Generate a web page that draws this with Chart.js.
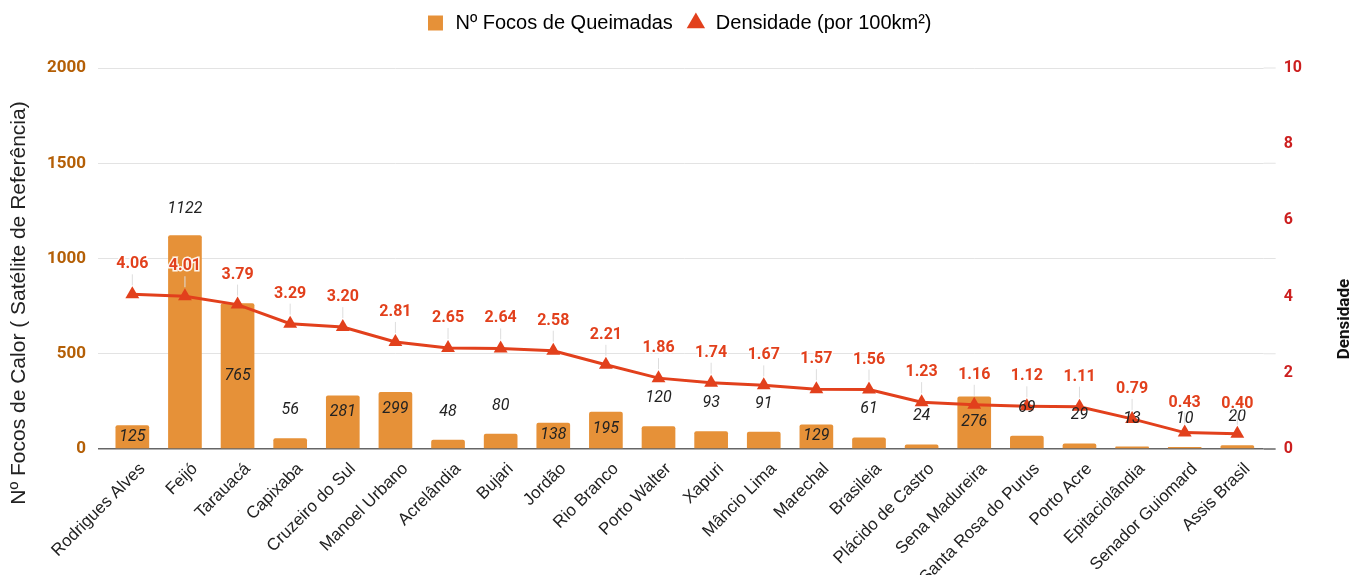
<!DOCTYPE html>
<html>
<head>
    <meta charset="UTF-8">
    <title>Focos de Queimadas - Acre</title>
    <script src="https://cdn.jsdelivr.net/npm/chart.js"></script>
    <style>
        body {
            margin: 0;
            padding: 0;
            background: #fff;
        }
        .chart-container {
            position: relative;
            width: 1366px;
            height: 575px;
        }
    </style>
</head>
<body>
    <div class="chart-container">
        <canvas id="focosChart"></canvas>
    </div>

    <script>
        // municípios
        const municipios = ['Rodrigues Alves', 'Feijó', 'Tarauacá', 'Capixaba', 'Cruzeiro do Sul', 'Manoel Urbano',
            'Acrelândia', 'Bujari', 'Jordão', 'Rio Branco', 'Porto Walter', 'Xapuri', 'Mâncio Lima', 'Marechal',
            'Brasileia', 'Plácido de Castro', 'Sena Madureira', 'Santa Rosa do Purus', 'Porto Acre',
            'Epitaciolândia', 'Senador Guiomard', 'Assis Brasil'];
        // nº de focos (barras)
        const focos = [125, 1122, 765, 56, 281, 299, 48, 80, 138, 195, 120, 93, 91, 129, 61, 24, 276, 69, 29, 13, 10, 20];
        // densidade por 100km² (linha)
        const densidade = [4.06, 4.01, 3.79, 3.29, 3.20, 2.81, 2.65, 2.64, 2.58, 2.21, 1.86, 1.74, 1.67, 1.57, 1.56,
            1.23, 1.16, 1.12, 1.11, 0.79, 0.43, 0.40];

        const corBarra = '#e69138';
        const corLinha = '#e2401c';

        // espaço extra abaixo da legenda
        const espacoLegenda = {
            id: 'espacoLegenda',
            beforeInit(chart) {
                const fitOrig = chart.legend.fit;
                chart.legend.fit = function() {
                    fitOrig.call(this);
                    this.height += 25;
                };
            }
        };

        // rótulos de dados desenhados à mão (sem plugin externo)
        const rotulos = {
            id: 'rotulos',
            beforeDatasetsDraw(chart) {
                // prolonga as linhas de grade para a direita
                const ctx = chart.ctx;
                const area = chart.chartArea;
                ctx.save();
                chart.scales.y.ticks.forEach(t => {
                    const y = chart.scales.y.getPixelForValue(t.value);
                    ctx.strokeStyle = t.value === 0 ? '#666' : '#e3e3e3';
                    ctx.lineWidth = t.value === 0 ? 1.5 : 1;
                    ctx.beginPath();
                    ctx.moveTo(area.right, y);
                    ctx.lineTo(area.right + 12, y);
                    ctx.stroke();
                });
                ctx.restore();
            },
            afterDatasetsDraw(chart) {
                const ctx = chart.ctx;
                const barras = chart.getDatasetMeta(0).data;
                const pontos = chart.getDatasetMeta(1).data;
                ctx.save();
                ctx.textAlign = 'center';
                ctx.textBaseline = 'middle';

                // linhas guia cinzas
                ctx.strokeStyle = '#dddddd';
                ctx.lineWidth = 1;
                pontos.forEach(p => {
                    ctx.beginPath();
                    ctx.moveTo(p.x, p.y - 20);
                    ctx.lineTo(p.x, p.y - 9);
                    ctx.stroke();
                });

                // valores das barras
                ctx.font = 'italic 16px Roboto';
                ctx.fillStyle = '#222';
                barras.forEach((b, i) => {
                    const v = focos[i];
                    let y;
                    if (v > 1000) {
                        y = b.y - 26;
                    } else if (v >= 125) {
                        const meio = (b.y + b.base) / 2;
                        y = Math.min(meio, b.y + 17);
                        // se bater no marcador da linha, desce para o meio da barra
                        if (Math.abs(y - pontos[i].y) < 20) y = meio;
                    } else {
                        y = b.y - 28;
                    }
                    ctx.fillText(String(v), b.x, y);
                });

                // valores da densidade
                ctx.font = 'bold 16px Roboto';
                ctx.lineWidth = 3;
                ctx.strokeStyle = 'rgba(255,255,255,0.9)';
                ctx.fillStyle = corLinha;
                pontos.forEach((p, i) => {
                    const txt = densidade[i].toFixed(2);
                    ctx.strokeText(txt, p.x, p.y - 30);
                    ctx.fillText(txt, p.x, p.y - 30);
                });

                // títulos dos eixos
                const area = chart.chartArea;
                ctx.fillStyle = '#222';
                ctx.font = '21px "Liberation Sans", Arial';
                ctx.translate(19, area.top + 235);
                ctx.rotate(-Math.PI / 2);
                ctx.fillText('Nº Focos de Calor ( Satélite de Referência)', 0, 0);
                ctx.setTransform(1, 0, 0, 1, 0, 0);
                ctx.font = 'bold 17px Roboto';
                ctx.fillStyle = '#111';
                ctx.translate(1345, area.top + 251);
                ctx.rotate(-Math.PI / 2);
                ctx.fillText('Densidade', 0, 0);
                ctx.restore();
            }
        };

        const ctx = document.getElementById('focosChart').getContext('2d');
        new Chart(ctx, {
            data: {
                labels: municipios,
                datasets: [
                    {
                        type: 'bar',
                        label: 'Nº Focos de Queimadas',
                        data: focos,
                        backgroundColor: corBarra,
                        borderRadius: 2,
                        barPercentage: 0.8,
                        categoryPercentage: 0.8,
                        yAxisID: 'y',
                        order: 1
                    },
                    {
                        type: 'line',
                        label: 'Densidade (por 100km²)',
                        data: densidade,
                        borderColor: corLinha,
                        backgroundColor: corLinha,
                        borderWidth: 3,
                        pointStyle: 'triangle',
                        pointRadius: 8,
                        pointBorderWidth: 0,
                        tension: 0,
                        yAxisID: 'y1',
                        order: 0
                    }
                ]
            },
            options: {
                responsive: true,
                maintainAspectRatio: false,
                animation: false,
                layout: {
                    padding: { left: 35, right: 44, top: 0, bottom: 0 }
                },
                plugins: {
                    legend: {
                        position: 'top',
                        labels: {
                            usePointStyle: true,
                            boxHeight: 15,
                            color: '#222',
                            font: { size: 20, family: '"Liberation Sans", Arial' },
                            padding: 13,
                            generateLabels: function(chart) {
                                return chart.data.datasets.map((ds, i) => ({
                                    text: ds.label,
                                    fillStyle: i === 0 ? corBarra : corLinha,
                                    strokeStyle: i === 0 ? corBarra : corLinha,
                                    lineWidth: 0,
                                    pointStyle: i === 0 ? 'rect' : 'triangle',
                                    hidden: false,
                                    datasetIndex: i
                                }));
                            }
                        }
                    },
                    tooltip: { enabled: false }
                },
                scales: {
                    x: {
                        grid: { display: false },
                        border: { display: false },
                        afterFit: s => { s.height = 126; },
                        ticks: {
                            color: '#222',
                            font: { size: 17, family: '"Liberation Sans", Arial' },
                            minRotation: 45,
                            maxRotation: 45,
                            autoSkip: false,
                            labelOffset: 10,
                            padding: 2
                        }
                    },
                    y: {
                        position: 'left',
                        min: 0,
                        max: 2000,
                        ticks: {
                            stepSize: 500,
                            color: '#b45f06',
                            font: { size: 17, weight: 'bold', family: 'Roboto' },
                            padding: 12,
                            callback: v => String(v)
                        },
                        grid: {
                            tickLength: 8,
                            color: c => c.tick.value === 0 ? '#666' : '#e3e3e3',
                            lineWidth: c => c.tick.value === 0 ? 1.5 : 1
                        },
                        border: { display: false }
                    },
                    y1: {
                        position: 'right',
                        min: 0,
                        max: 10,
                        ticks: {
                            stepSize: 2,
                            color: '#cc1f1f',
                            font: { size: 16, weight: 'bold', family: 'Roboto' },
                            padding: 20
                        },
                        grid: { drawOnChartArea: false, drawTicks: false },
                        border: { display: false }
                    }
                }
            },
            plugins: [espacoLegenda, rotulos]
        });
    </script>
</body>
</html>
